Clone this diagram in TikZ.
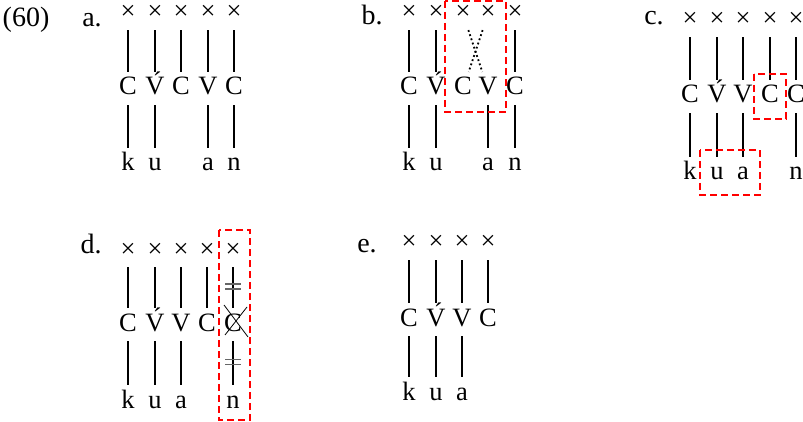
\documentclass[tikz,border=0pt]{standalone}
\usepackage{fontspec}
\setmainfont{Liberation Serif}
\usepackage{tikz}
\usetikzlibrary{calc}

\newcommand\segfont{\fontsize{26.5}{30}\selectfont}
\newcommand\labfont{\fontsize{28}{32}\selectfont}

\tikzset{
    seg/.style={inner sep=0pt, text height=20pt, text depth=8pt, anchor=base, font=\segfont},
    exlabel/.style={inner sep=0pt, anchor=base, font=\labfont},
    assoc/.style={line width=1.2pt, shorten <=2pt, shorten >=3pt},
    crossed/.style={line width=1.8pt, dash pattern=on 1.8pt off 2.6pt, shorten <=2pt, shorten >=3pt},
    delink/.style={draw=none, inner sep=0pt, minimum width=15pt, minimum height=4.5pt},
    hilite/.style={draw=red, line width=1.5pt, dash pattern=on 7pt off 4pt}
}

\begin{document}
\begin{tikzpicture}[x=1pt,y=-1pt]
\useasboundingbox (0,0) rectangle (803,422);

            \node[exlabel] (num) at (26,27) {(60)};
             %a.
            \node[exlabel] (la) at (92,27) {a.};
                 \foreach \n/\x in {1/128,2/155,3/181,4/208,5/234}
                     \node[seg] (ax\n) at (\x,20) {×};
            \node[seg] (ac1) at (128,95) {C};
            \node[seg] (ac2) at (155,95) {\'V};
            \node[seg] (ac3) at (181,95) {C};
            \node[seg] (ac4) at (208,95) {V};
            \node[seg] (ac5) at (234,95) {C};
            \node[seg] (as1) at (128,171) {k};
            \node[seg] (as2) at (155,171) {u};
            \node[seg] (as4) at (208,171) {a};
            \node[seg] (as5) at (234,171) {n};
                 \foreach \n in {1,...,5}
                     \draw[assoc] (ax\n) -- (ac\n);
                 \foreach \n in {1,2,4,5}
                     \draw[assoc] (ac\n) -- (as\n);

             %b.
            \node[exlabel] (lb) at (372,25) {b.};
                 \foreach \n/\x in {1/409,2/436,3/463,4/488,5/515}
                     \node[seg] (bx\n) at (\x,20) {×};
            \node[seg] (bc1) at (409,95) {C};
            \node[seg] (bc2) at (436,95) {\'V};
            \node[seg] (bc3) at (463,95) {C};
            \node[seg] (bc4) at (488,95) {V};
            \node[seg] (bc5) at (515,95) {C};
            \node[seg] (bs1) at (409,171) {k};
            \node[seg] (bs2) at (436,171) {u};
            \node[seg] (bs4) at (488,171) {a};
            \node[seg] (bs5) at (515,171) {n};
                 \foreach \n in {1,2,5}
                     \draw[assoc] (bx\n) -- (bc\n);
            \draw[crossed] (bx3) -- (bc4);
            \draw[crossed] (bx4) -- (bc3);
                 \foreach \n in {1,2,4,5}
                     \draw[assoc] (bc\n) -- (bs\n);
            \draw[hilite] (445,1) rectangle (506,112);

             %c.
            \node[exlabel] (lc) at (654,25) {c.};
                 \foreach \n/\x in {1/690,2/717,3/743,4/770,5/796}
                     \node[seg] (cx\n) at (\x,27) {×};
            \node[seg] (cc1) at (690,103) {C};
            \node[seg] (cc2) at (717,103) {\'V};
            \node[seg] (cc3) at (743,103) {V};
            \node[seg] (cc4) at (770,103) {C};
            \node[seg] (cc5) at (796,103) {C};
            \node[seg] (cs1) at (690,180) {k};
            \node[seg] (cs2) at (717,180) {u};
            \node[seg] (cs3) at (743,180) {a};
            \node[seg] (cs5) at (796,180) {n};
                 \foreach \n in {1,...,5}
                     \draw[assoc] (cx\n) -- (cc\n);
                 \foreach \n in {1,2,3,5}
                     \draw[assoc] (cc\n) -- (cs\n);
            \draw[hilite] (754,74) rectangle (786,119);
            \draw[hilite] (700,150) rectangle (760,195);

             %d.
            \node[exlabel] (ld) at (91,253) {d.};
                 \foreach \n/\x in {1/128,2/155,3/181,4/207,5/233}
                     \node[seg] (dx\n) at (\x,257) {×};
            \node[seg] (dc1) at (128,331) {C};
            \node[seg] (dc2) at (155,331) {\'V};
            \node[seg] (dc3) at (181,331) {V};
            \node[seg] (dc4) at (207,331) {C};
            \node[seg] (dc5) at (233,331) {C};
            \node[seg] (ds1) at (128,408) {k};
            \node[seg] (ds2) at (155,408) {u};
            \node[seg] (ds3) at (181,408) {a};
            \node[seg] (ds5) at (233,408) {n};
                 \foreach \n in {1,...,5}
                     \draw[assoc] (dx\n) -- (dc\n);
                 \foreach \n in {1,2,3,5}
                     \draw[assoc] (dc\n) -- (ds\n);
             %delinked
            \path (dx5) -- node[delink, pos=0.47] (dk1) {} (dc5);
            \path (dc5) -- node[delink, pos=0.47] (dk2) {} (ds5);
                 \foreach \k in {dk1,dk2}
                     \draw[black!60, line width=1.6pt] (\k.north west) -- (\k.north east)
                                                       (\k.south west) -- (\k.south east);
            \draw[line width=0.8pt] ($(dc5.base)+(-9,-26)$) -- ($(dc5.base)+(15,6)$);
            \draw[line width=0.8pt] ($(dc5.base)+(14,-24)$) -- ($(dc5.base)+(-8,4)$);
            \draw[hilite] (219,230) rectangle (250,420);

             %e.
            \node[exlabel] (le) at (367,252) {e.};
                 \foreach \n/\x in {1/409,2/436,3/462,4/488}
                     \node[seg] (ex\n) at (\x,250) {×};
            \node[seg] (ec1) at (409,326) {C};
            \node[seg] (ec2) at (436,326) {\'V};
            \node[seg] (ec3) at (462,326) {V};
            \node[seg] (ec4) at (488,326) {C};
            \node[seg] (es1) at (409,400) {k};
            \node[seg] (es2) at (436,400) {u};
            \node[seg] (es3) at (462,400) {a};
                 \foreach \n in {1,...,4}
                     \draw[assoc] (ex\n) -- (ec\n);
                 \foreach \n in {1,2,3}
                     \draw[assoc] (ec\n) -- (es\n);
\end{tikzpicture}
\end{document}
